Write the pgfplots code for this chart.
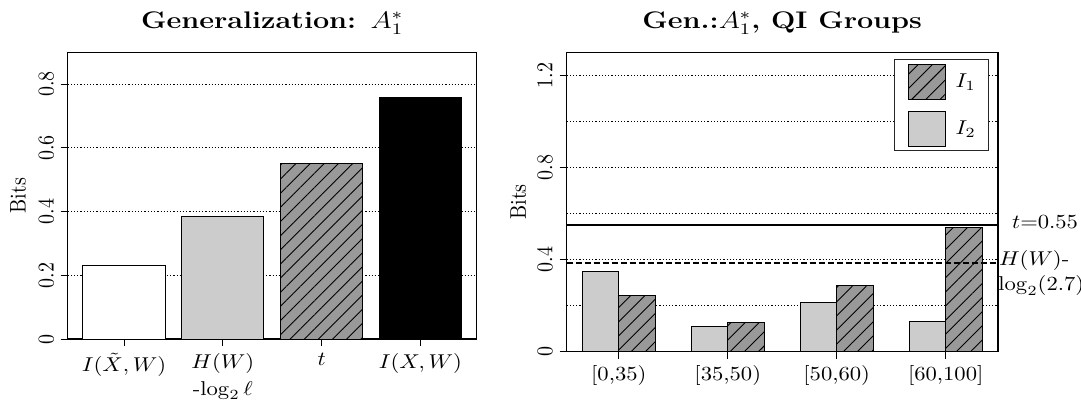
\documentclass[border=0pt]{standalone}
\usepackage{graphicx}
\usepackage{pgfplots}
\pgfplotsset{compat=1.18}
\usetikzlibrary{patterns.meta}

\definecolor{lightbar}{gray}{0.8}
\definecolor{midbar}{gray}{0.6}
% the reference is stretched sideways a little
\newcommand{\sx}[1]{\scalebox{1.13}[1]{#1}}
\newcommand{\sy}[1]{\scalebox{1}[1.13]{#1}}
\newcommand{\st}[1]{\scalebox{1.2}[1]{#1}}

\pgfplotsset{
  rplot/.style={
    scale only axis,
    axis line style={black, line width=0.6pt},
    tick align=outside,
    tick pos=left,
    major tick length=3.5pt,
    tick style={black, line width=0.5pt},
    ymajorgrids,
    grid style={black, line width=0.5pt, dash pattern=on 0.6pt off 1pt},
    yticklabel={\sy{$\pgfmathprintnumber{\tick}$}},
    yticklabel style={rotate=90, anchor=south},
    every axis title/.style={font=\large, at={(0.5,1)}, anchor=center, yshift=14.65pt},
    ylabel={\sy{Bits}},
    clip=false,
  },
  rbar/.style={ybar, bar width=1, bar shift=0pt, draw=black, line width=0.5pt},
  hatched/.style={fill=midbar, postaction={pattern={Lines[angle=45,distance=5pt,line width=0.45pt]}}},
}

\begin{document}
\begin{tikzpicture}
\path[use as bounding box] (-33.85pt,-32pt) rectangle (506.65pt,169.5pt);

% left panel
\begin{axis}[rplot,
  width=204.5pt, height=143.35pt,
  xmin=0.016, xmax=4.984, ymin=0, ymax=0.9,
  xtick={0.7,1.9,3.1,4.3},
  xticklabels={\sx{$I(\tilde{X},W)$}, {\sx{$H(W)$}\\[1.5pt]\sx{-$\log_2\ell$}}, \sx{$t$}, \sx{$I(X,W)$}},
  xticklabel style={align=center},
  ytick={0,0.2,0.4,0.6,0.8},
  title={\st{\bfseries Generalization: $A_1^*$}},
  ylabel style={at={(axis description cs:-0.1215,0.5)}, anchor=center},
]
\addplot[rbar, fill=white] coordinates {(0.7,0.23)};
\addplot[rbar, fill=lightbar] coordinates {(1.9,0.386)};
\addplot[rbar, hatched] coordinates {(3.1,0.55)};
\addplot[rbar, fill=black] coordinates {(4.3,0.757)};
\end{axis}

% right panel
\begin{axis}[rplot, at={(249.4pt,-6.35pt)}, anchor=south west,
  width=215.75pt, height=149.7pt,
  xmin=0.56, xmax=12.44, ymin=0, ymax=1.3,
  xtick={2,5,8,11},
  xticklabels={\sx{[0,35)}, \sx{[35,50)}, \sx{[50,60)}, \sx{[60,100]}},
  ytick={0,0.4,0.8,1.2},
  extra y ticks={0.2,0.6,1.0},
  extra y tick style={major tick length=0pt, grid=major, yticklabel={}},
  title={\st{\bfseries Gen.:$A_1^*$, QI Groups}},
  ylabel style={at={(axis description cs:-0.1117,0.5)}, anchor=center},
  legend image code/.code={\draw[#1] (0pt,-8.75pt) rectangle (18.5pt,8.75pt);},
  legend style={at={(1,1)}, anchor=north east, xshift=-4.35pt, yshift=-3.5pt,
    draw=black!85, line width=0.5pt, inner xsep=6.5pt, inner ysep=2pt,
    row sep=5.5pt, column sep=5pt, nodes={inner sep=0pt}},
  legend cell align=left,
]
\addplot[rbar, hatched] coordinates {(2.5,0.245) (5.5,0.128) (8.5,0.286) (11.5,0.538)};
\addlegendentry{\sx{$I_1$}}
\addplot[rbar, fill=lightbar] coordinates {(1.5,0.35) (4.5,0.11) (7.5,0.212) (10.5,0.13)};
\addlegendentry{\sx{$I_2$}}
\addplot[forget plot, black, line width=1pt] coordinates {(0.56,0.55) (12.44,0.55)};
\addplot[forget plot, black, line width=0.9pt, dash pattern=on 3pt off 1.5pt] coordinates {(0.56,0.386) (12.44,0.386)};
\node[anchor=west, inner sep=0pt, xshift=6.85pt] at (axis cs:12.44,0.564) {\sx{$t$=0.55}};
\node[anchor=west, inner sep=0pt, xshift=0.35pt] at (axis cs:12.44,0.398) {\sx{$H(W)$-}};
\node[anchor=west, inner sep=0pt] at (axis cs:12.44,0.289) {\sx{$\log_2(2.7)$}};
\end{axis}
\end{tikzpicture}
\end{document}
